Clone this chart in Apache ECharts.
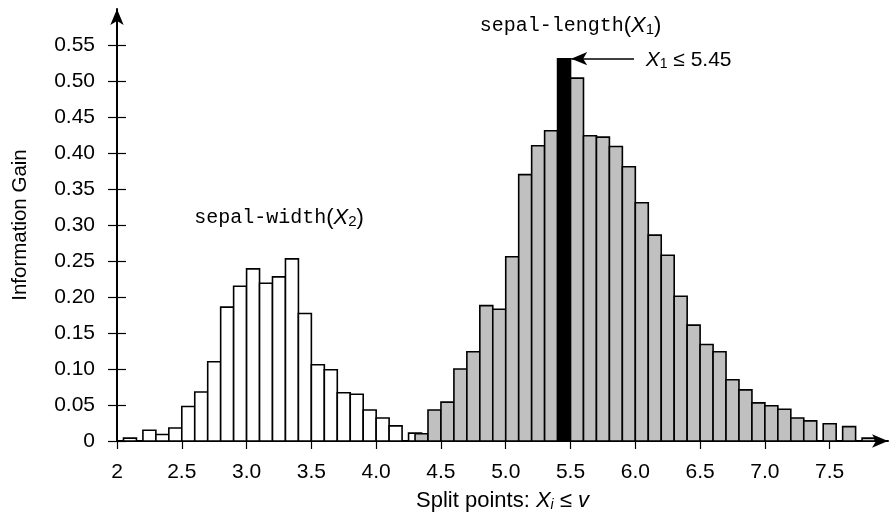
<!DOCTYPE html>
<html>
<head>
<meta charset="utf-8">
<script src="https://cdn.jsdelivr.net/npm/echarts@6/dist/echarts.min.js"></script>
<style>
html, body { margin: 0; padding: 0; background: #fff; }
#chart { width: 892px; height: 516px; }
</style>
</head>
<body>
<div id="chart"></div>
<script>
// split points and their information gain
var widthSplits = [2.1, 2.25, 2.35, 2.45, 2.55, 2.65, 2.75, 2.85, 2.95, 3.05, 3.15,
	3.25, 3.35, 3.45, 3.55, 3.65, 3.75, 3.85, 3.95, 4.05, 4.15, 4.3];
var widthGain = [0.004, 0.015, 0.009, 0.018, 0.048, 0.068, 0.110, 0.186, 0.215, 0.239, 0.219,
	0.228, 0.253, 0.177, 0.106, 0.099, 0.067, 0.065, 0.043, 0.032, 0.021, 0.011];

var lengthSplits = [4.35, 4.45, 4.55, 4.65, 4.75, 4.85, 4.95, 5.05, 5.15, 5.25, 5.35,
	5.45, 5.55, 5.65, 5.75, 5.85, 5.95, 6.05, 6.15, 6.25, 6.35, 6.45, 6.55, 6.65,
	6.75, 6.85, 6.95, 7.05, 7.15, 7.25, 7.35, 7.5, 7.65, 7.8];
var lengthGain = [0.010, 0.043, 0.054, 0.100, 0.124, 0.188, 0.183, 0.256, 0.370, 0.410, 0.431,
	0.531, 0.504, 0.424, 0.422, 0.409, 0.381, 0.331, 0.286, 0.258, 0.201, 0.161, 0.134, 0.124,
	0.085, 0.071, 0.053, 0.049, 0.044, 0.032, 0.028, 0.024, 0.020, 0.004];

var bestSplit = 5.45;

var xTicks = [2, 2.5, 3, 3.5, 4, 4.5, 5, 5.5, 6, 6.5, 7, 7.5];
var xTickLabels = ['2', '2.5', '3.0', '3.5', '4.0', '4.5', '5.0', '5.5', '6.0', '6.5', '7.0', '7.5'];
var yTicks = [0, 0.05, 0.1, 0.15, 0.2, 0.25, 0.3, 0.35, 0.4, 0.45, 0.5, 0.55];
var yTickLabels = ['0', '0.05', '0.10', '0.15', '0.20', '0.25', '0.30', '0.35', '0.40', '0.45', '0.50', '0.55'];

var sans = 'Liberation Sans';
var mono = 'Liberation Mono';

function renderBar(params, api) {
	var x = api.value(0);
	var y = api.value(1);
	var p0 = api.coord([x - 0.05, y]);
	var p1 = api.coord([x + 0.05, 0]);
	return {
		type: 'rect',
		shape: { x: p0[0], y: p0[1], width: p1[0] - p0[0], height: p1[1] - p0[1] },
		style: api.style()
	};
}

var widthData = widthSplits.map(function (s, i) { return [s, widthGain[i]]; });
var lengthData = lengthSplits.map(function (s, i) {
	if (s === bestSplit) {
		return { value: [s, lengthGain[i]], itemStyle: { color: '#000' } };
	}
	return [s, lengthGain[i]];
});
var bestGain = lengthGain[lengthSplits.indexOf(bestSplit)];

var chart = echarts.init(document.getElementById('chart'));

var option = {
	animation: false,
	grid: {
		left: 117,
		right: 4,
		top: 9,
		bottom: 75,
		outerBoundsMode: 'none'
	},
	xAxis: {
		type: 'value',
		min: 2,
		max: 7.95,
		name: 'Split points: {it|X}{sub|i}{n| ≤ }{it|v}',
		nameLocation: 'middle',
		nameGap: 48,
		nameTextStyle: {
			fontFamily: sans, fontSize: 22, color: '#000',
			rich: {
				it: { fontFamily: sans, fontStyle: 'italic', fontSize: 22, color: '#000' },
				sub: { fontFamily: sans, fontStyle: 'italic', fontSize: 14, color: '#000', padding: [9, 0, 0, 0] },
				n: { fontFamily: sans, fontSize: 22, color: '#000' }
			}
		},
		axisLine: {
			lineStyle: { color: '#000', width: 2 },
			symbol: ['none', 'arrow'],
			symbolSize: [10, 16]
		},
		axisTick: {
			customValues: xTicks,
			length: 8,
			lineStyle: { color: '#000', width: 1.2 }
		},
		axisLabel: {
			customValues: xTicks,
			formatter: function (v) { return xTickLabels[xTicks.indexOf(v)]; },
			margin: 21,
			fontFamily: sans,
			fontSize: 21,
			color: '#000'
		},
		splitLine: { show: false }
	},
	yAxis: [{
		type: 'value',
		min: 0,
		max: 0.6,
		name: 'Information Gain',
		nameLocation: 'middle',
		nameGap: 86,
		nameTextStyle: { fontFamily: sans, fontSize: 20.5, color: '#000' },
		axisLine: {
			show: true,
			lineStyle: { color: '#000', width: 2 },
			symbol: ['none', 'arrow'],
			symbolSize: [10, 16]
		},
		axisTick: {
			show: true,
			customValues: yTicks,
			length: 9,
			lineStyle: { color: '#000', width: 1.2 }
		},
		axisLabel: {
			customValues: yTicks,
			formatter: function (v) { return yTickLabels[yTicks.indexOf(v)]; },
			margin: 22,
			fontFamily: sans,
			fontSize: 21,
			color: '#000'
		},
		splitLine: { show: false }
	}, {
		// second copy only to draw the inner half of the y ticks
		type: 'value',
		min: 0,
		max: 0.6,
		position: 'left',
		axisLine: { show: false },
		axisTick: {
			show: true,
			inside: true,
			customValues: yTicks,
			length: 9,
			lineStyle: { color: '#000', width: 1.2 }
		},
		axisLabel: { show: false },
		splitLine: { show: false }
	}],
	series: [{
		name: 'sepal-width',
		type: 'custom',
		renderItem: renderBar,
		encode: { x: 0, y: 1 },
		itemStyle: { color: '#fff', borderColor: '#000', borderWidth: 1.6 },
		data: widthData
	}, {
		name: 'sepal-length',
		type: 'custom',
		renderItem: renderBar,
		encode: { x: 0, y: 1 },
		itemStyle: { color: '#c0c0c0', borderColor: '#000', borderWidth: 1.6 },
		data: lengthData,
		markLine: {
			silent: true,
			symbolSize: [10, 16],
			label: { show: false },
			lineStyle: { color: '#000', width: 1.5, type: 'solid' },
			data: [[
				{ coord: [5.99, bestGain], symbol: 'none' },
				{ coord: [5.505, bestGain], symbol: 'arrow' }
			]]
		}
	}]
};

chart.setOption(option);

var richStyles = {
	tt: { fontFamily: mono, fontSize: 20, fill: '#000' },
	n: { fontFamily: sans, fontSize: 22, fill: '#000' },
	it: { fontFamily: sans, fontStyle: 'italic', fontSize: 22, fill: '#000' },
	sub: { fontFamily: sans, fontSize: 15, fill: '#000', padding: [9, 0, 0, 0] }
};

var lenPos = chart.convertToPixel({ gridIndex: 0 }, [5.5, 0.577]);
var widPos = chart.convertToPixel({ gridIndex: 0 }, [3.25, 0.31]);
var bestPos = chart.convertToPixel({ gridIndex: 0 }, [6.08, bestGain - 0.002]);

chart.setOption({
	graphic: [{
		type: 'text',
		x: lenPos[0],
		y: lenPos[1],
		style: {
			text: '{tt|sepal-length}{n|(}{it|X}{sub|1}{n|)}',
			rich: richStyles,
			align: 'center',
			verticalAlign: 'middle'
		}
	}, {
		type: 'text',
		x: widPos[0],
		y: widPos[1],
		style: {
			text: '{tt|sepal-width}{n|(}{it|X}{sub|2}{n|)}',
			rich: richStyles,
			align: 'center',
			verticalAlign: 'middle'
		}
	}, {
		type: 'text',
		x: bestPos[0],
		y: bestPos[1],
		style: {
			text: '{it|X}{sub|1}{n| ≤ ' + bestSplit.toFixed(2) + '}',
			rich: {
				it: { fontFamily: sans, fontStyle: 'italic', fontSize: 21, fill: '#000' },
				sub: { fontFamily: sans, fontSize: 14, fill: '#000', padding: [8, 0, 0, 0] },
				n: { fontFamily: sans, fontSize: 21, fill: '#000' }
			},
			align: 'left',
			verticalAlign: 'middle'
		}
	}]
});

window.addEventListener('resize', function () {
	chart.resize();
});
</script>
</body>
</html>
